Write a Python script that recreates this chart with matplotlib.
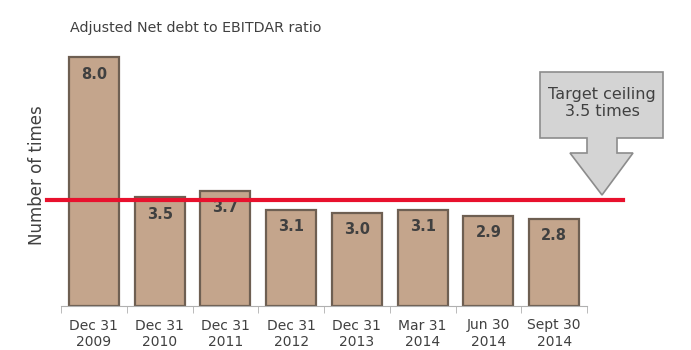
import numpy as np
import matplotlib.pyplot as plt
from matplotlib.patches import Polygon

# Chart data
periods = ["Dec 31\n2009", "Dec 31\n2010", "Dec 31\n2011", "Dec 31\n2012",
           "Dec 31\n2013", "Mar 31\n2014", "Jun 30\n2014", "Sept 30\n2014"]
ratios = [8.0, 3.5, 3.7, 3.1, 3.0, 3.1, 2.9, 2.8]
target = 3.5

W, H = 691, 350
fig = plt.figure(figsize=(W / 100, H / 100), dpi=100)
ax = fig.add_axes([61 / W, 44 / H, 526 / W, 280 / H])

x = np.arange(len(ratios))
ax.bar(x, ratios, width=0.76, color="#c4a58c", edgecolor="#6e5f52", linewidth=1.6, zorder=2)

for xi, v in zip(x, ratios):
    ax.text(xi, v - 0.55, "%.1f" % v, ha="center", va="center",
            fontsize=10.5, fontweight="bold", color="#404040", zorder=3)

ax.set_xlim(-0.5, len(ratios) - 0.5)
ax.set_ylim(0, 9.0)

# target line, runs a bit past the axes on both sides
ax.axhline(target - 0.08, xmin=-0.027, xmax=1.068, color="#e8112d", lw=3, clip_on=False, zorder=4)

ax.set_xticks(x)
ax.set_xticklabels(periods, fontsize=10, color="#404040")
ax.set_xticks(np.arange(-0.5, len(ratios)), minor=True)
ax.tick_params(axis="x", which="major", length=0, pad=9)
ax.tick_params(axis="x", which="minor", length=5, color="#b0b0b0")
ax.set_yticks([])
for s in ["top", "right", "left"]:
    ax.spines[s].set_visible(False)
ax.spines["bottom"].set_color("#b0b0b0")

fig.text(37 / W, 175 / H, "Number of times", rotation=90, ha="center", va="center",
         fontsize=12, color="#404040")
fig.text(70 / W, 1 - 28 / H, "Adjusted Net debt to EBITDAR ratio", ha="left", va="center",
         fontsize=10.3, color="#404040")

# callout arrow (figure pixel coordinates, y measured from top)
pts = [(540, 72), (663, 72), (663, 138), (617, 138), (617, 153), (633, 153),
       (602, 195), (570, 153), (587, 153), (587, 138), (540, 138)]
poly = Polygon([(px / W, 1 - py / H) for px, py in pts], closed=True,
               transform=fig.transFigure, facecolor="#d4d4d4", edgecolor="#8c8c8c", lw=1.2)
fig.patches.append(poly)
fig.text(602 / W, 1 - 103 / H, "Target ceiling\n3.5 times", ha="center", va="center",
         fontsize=11.5, color="#404040", linespacing=1.2)

plt.savefig("out.png")
